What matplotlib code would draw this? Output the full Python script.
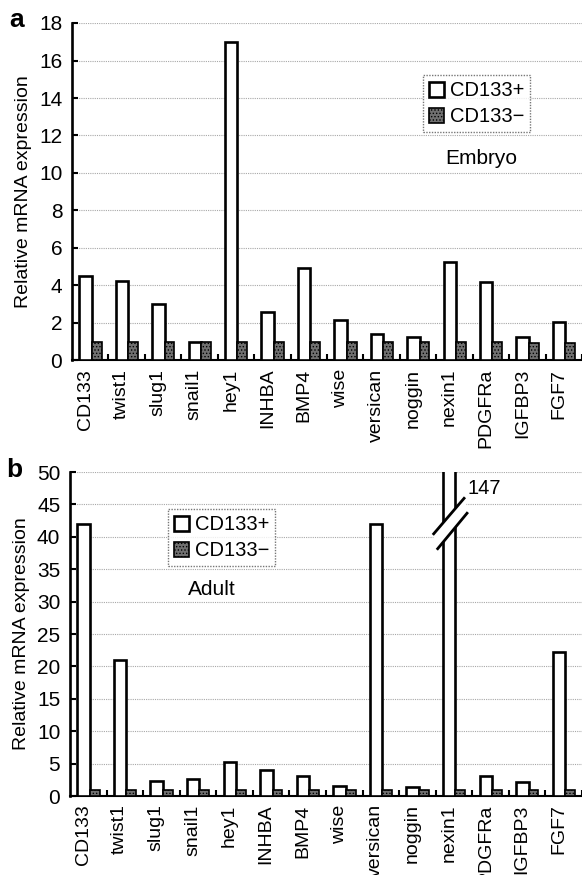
import matplotlib
matplotlib.use("Agg")
import matplotlib.pyplot as plt
import numpy as np
from matplotlib.patches import Patch, Polygon

plt.rcParams['font.family'] = ['Liberation Sans', 'DejaVu Sans']
plt.rcParams['hatch.linewidth'] = 0.6

genes = ["CD133", "twist1", "slug1", "snail1", "hey1", "INHBA", "BMP4", "wise",
         "versican", "noggin", "nexin1", "PDGFRa", "IGFBP3", "FGF7"]

embryo_pos = [4.5, 4.25, 3.0, 1.0, 17.0, 2.57, 4.95, 2.14, 1.43, 1.27, 5.25, 4.2, 1.27, 2.05]
embryo_neg = [1.0, 1.0, 1.0, 1.0, 1.0, 1.0, 1.0, 1.0, 1.0, 1.0, 1.0, 0.96, 0.93, 0.93]

adult_pos = [42.0, 21.0, 2.3, 2.6, 5.2, 4.0, 3.15, 1.5, 42.0, 1.4, 147.0, 3.1, 2.1, 22.2]
adult_neg = [0.9, 0.9, 0.9, 0.9, 0.9, 0.9, 0.9, 0.9, 0.9, 0.9, 0.9, 0.9, 0.9, 0.9]

legend_labels = ["CD133+", "CD133\u2212"]

W, H = 582, 875
fig = plt.figure(figsize=(W / 100, H / 100), dpi=100)

ax_a = fig.add_axes([72 / W, 1 - 360.5 / H, 1 - 72 / W, (360.5 - 23) / H])
ax_b = fig.add_axes([70 / W, 1 - 796 / H, 1 - 70 / W, (796 - 472) / H])

NEG_COLOR = "#707070"


def draw_panel(ax, pos, neg, ymax, ystep):
    x = np.arange(len(genes))
    wp, wn = 0.34, 0.27
    ax.bar(x - 0.30, pos, width=wp, align='edge', facecolor='white',
           edgecolor='black', linewidth=1.9, zorder=3)
    ax.bar(x + 0.04, neg, width=wn, align='edge', facecolor=NEG_COLOR,
           edgecolor='black', linewidth=1.2, hatch='.....', zorder=3)
    ax.set_xlim(-0.5, len(genes) - 0.5)
    ax.set_ylim(0, ymax)
    ax.set_yticks(np.arange(0, ymax + 0.1, ystep))
    ax.set_xticks(x - 0.14)
    ax.set_xticklabels(genes, rotation=90, fontsize=14)
    ax.set_xticks(np.arange(len(genes)) + 0.5, minor=True)
    ax.tick_params(axis='x', which='major', length=0, pad=6)
    ax.tick_params(axis='x', which='minor', direction='in', length=4, width=1.5)
    ax.tick_params(axis='y', which='major', direction='in', length=4, width=1.5,
                   labelsize=15, pad=7)
    for s in ['top', 'right']:
        ax.spines[s].set_visible(False)
    ax.spines['left'].set_linewidth(1.9)
    ax.spines['bottom'].set_linewidth(1.5)
    ax.yaxis.grid(True, color='#a8a8a8', linestyle=(0, (1, 1)), linewidth=0.8, zorder=0)
    ax.set_axisbelow(True)
    ax.set_ylabel("Relative mRNA expression", fontsize=14, labelpad=5)
    handles = [Patch(facecolor='white', edgecolor='black', linewidth=1.9),
               Patch(facecolor=NEG_COLOR, edgecolor='black', linewidth=1.2, hatch='.....')]
    return handles


def add_legend(ax, h, anchor):
    leg = ax.legend(h, legend_labels, loc='upper left', bbox_to_anchor=anchor,
                    fontsize=14.5, frameon=True, fancybox=False, handlelength=0.75,
                    handleheight=0.75, handletextpad=0.3, borderpad=0.3, labelspacing=0.35,
                    borderaxespad=0)
    leg.get_frame().set_edgecolor('#555555')
    leg.get_frame().set_linestyle((0, (1, 1)))
    leg.get_frame().set_linewidth(1.0)
    return leg


h = draw_panel(ax_a, embryo_pos, embryo_neg, 18, 2)
add_legend(ax_a, h, (0.688, 0.845))
ax_a.text(0.802, 0.600, "Embryo", transform=ax_a.transAxes, fontsize=15,
          ha='center', va='center')

h = draw_panel(ax_b, adult_pos, adult_neg, 50, 5)
add_legend(ax_b, h, (0.191, 0.885))
ax_b.text(0.277, 0.636, "Adult", transform=ax_b.transAxes, fontsize=15,
          ha='center', va='center')

# axis break on nexin1 bar (value 147, clipped at 50)
ib = genes.index("nexin1")
poly = Polygon([[ib - 0.58, 40.3], [ib + 0.30, 46.1], [ib + 0.38, 43.8], [ib - 0.47, 38.0]],
               closed=True, facecolor='white', edgecolor='none', zorder=4)
ax_b.add_patch(poly)
ax_b.plot([ib - 0.58, ib + 0.30], [40.3, 46.1], color='black', lw=2, zorder=5,
          solid_capstyle='butt')
ax_b.plot([ib - 0.47, ib + 0.38], [38.0, 43.8], color='black', lw=2, zorder=5,
          solid_capstyle='butt')
ax_b.text(ib + 0.37, 47.5, "%d" % adult_pos[ib], fontsize=14.5, ha='left', va='center')

fig.text(17 / W, 1 - 20 / H, "a", fontsize=19, fontweight='bold', ha='center', va='center')
fig.text(14 / W, 1 - 470 / H, "b", fontsize=19, fontweight='bold', ha='center', va='center')

fig.savefig("out.png", dpi=100)
